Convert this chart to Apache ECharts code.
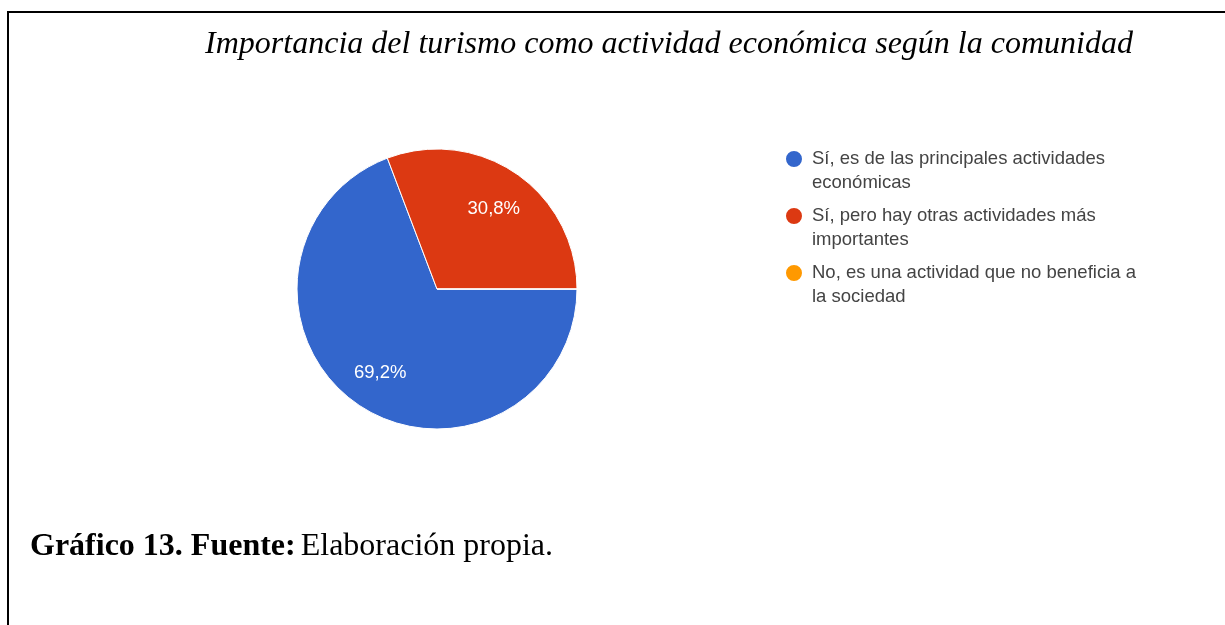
<!DOCTYPE html>
<html>
<head>
<meta charset="utf-8">
<script src="https://cdn.jsdelivr.net/npm/echarts@6/dist/echarts.min.js"></script>
<style>
html,body{margin:0;padding:0;background:#fff;}
#chart{width:1225px;height:625px;}
</style>
</head>
<body>
<div id="chart"></div>
<script>
const titleText = 'Importancia del turismo como actividad económica según la comunidad';
const captionBold = 'Gráfico 13. Fuente:';
const captionRegular = 'Elaboración propia.';
const categories = [
  'Sí, es de las principales actividades económicas',
  'Sí, pero hay otras actividades más importantes',
  'No, es una actividad que no beneficia a la sociedad'
];
const counts = [9, 4, 0];
const colors = ['#3366CC', '#DC3912', '#FF9900'];

const pieData = categories.map((n, i) => ({ name: n, value: counts[i] }));
const labelFmt = p => p.value ? p.percent.toFixed(1).replace('.', ',') + '%' : '';

const chart = echarts.init(document.getElementById('chart'), null, { renderer: 'canvas' });
chart.setOption({
  animation: false,
  backgroundColor: '#fff',
  color: colors,
  title: [
    {
      text: titleText,
      left: 664, top: 24, textAlign: 'center',
      textStyle: { fontFamily: 'Liberation Serif', fontStyle: 'italic', fontWeight: 'normal', fontSize: 32, color: '#000' }
    },
    {
      text: '{b|' + captionBold + '} {r|' + captionRegular + '}',
      left: 30, top: 531, padding: 0,
      textStyle: {
        rich: {
          b: { fontFamily: 'Liberation Serif', fontWeight: 'bold', fontSize: 32, color: '#000' },
          r: { fontFamily: 'Liberation Serif', fontWeight: 'normal', fontSize: 32, color: '#000' }
        }
      }
    }
  ],
  legend: {
    data: categories,
    orient: 'vertical',
    left: 784, top: 146,
    padding: 0,
    itemWidth: 22, itemHeight: 48, itemGap: 7,
    icon: 'path://M9,0 M0,12 A9,9 0 1,0 18,12 A9,9 0 1,0 0,12 Z M22,48',
    selectedMode: false,
    textStyle: { fontFamily: 'Liberation Sans', fontSize: 18.5, color: '#444', lineHeight: 24, width: 335, overflow: 'break' }
  },
  graphic: [
    { type: 'line', shape: { x1: 7, y1: 12, x2: 1225, y2: 12 }, style: { stroke: '#000', lineWidth: 2 }, silent: true },
    { type: 'line', shape: { x1: 8, y1: 11, x2: 8, y2: 625 }, style: { stroke: '#000', lineWidth: 2 }, silent: true }
  ],
  series: [
    {
      type: 'pie',
      center: [437, 289], radius: [0, 140],
      startAngle: 0, clockwise: true,
      percentPrecision: 1,
      label: { show: false }, labelLine: { show: false },
      itemStyle: { borderColor: '#fff', borderWidth: 1 },
      emphasis: { disabled: true },
      data: pieData
    },
    {
      type: 'pie',
      center: [437, 289], radius: [54, 140],
      startAngle: 0, clockwise: true,
      percentPrecision: 1,
      silent: true, legendHoverLink: false,
      itemStyle: { color: 'rgba(0,0,0,0)', borderWidth: 0 },
      label: { show: true, position: 'inside', offset: [0, 2], formatter: labelFmt, color: '#fff', fontFamily: 'Liberation Sans', fontSize: 18.5, textBorderWidth: 0 },
      labelLine: { show: false },
      emphasis: { disabled: true },
      data: pieData
    }
  ]
});
</script>
</body>
</html>
